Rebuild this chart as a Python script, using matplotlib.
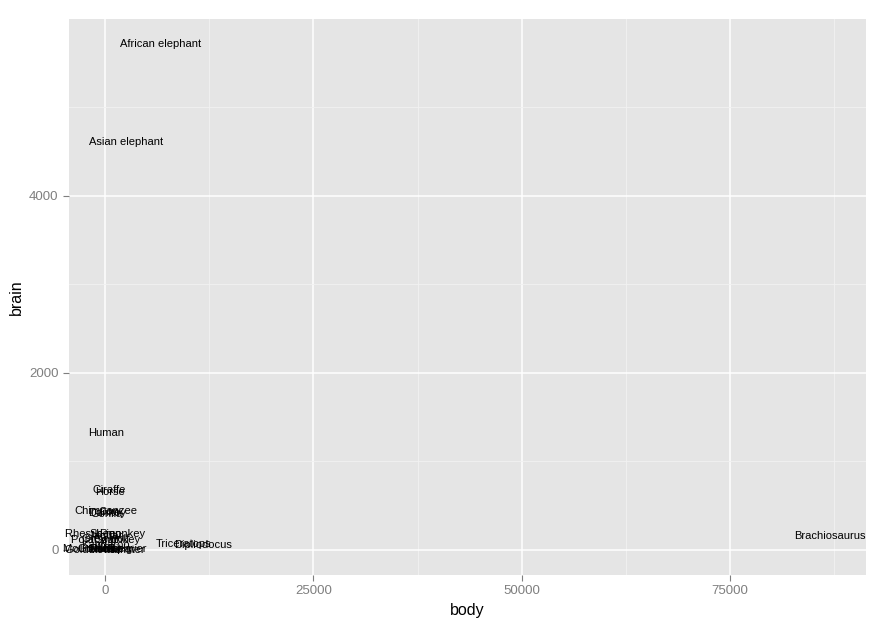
import matplotlib
matplotlib.use("Agg")
import matplotlib.pyplot as plt
plt.rcParams['font.family'] = ['Liberation Sans', 'DejaVu Sans']

names = ["Mountain beaver","Cow","Grey wolf","Goat","Guinea pig","Dipliodocus","Asian elephant",
         "Donkey","Horse","Potar monkey","Cat","Giraffe","Gorilla","Human","African elephant",
         "Triceratops","Rhesus monkey","Kangaroo","Golden hamster","Mouse","Rabbit","Sheep",
         "Jaguar","Chimpanzee","Brachiosaurus","Mole","Pig"]
body = [1.35,465,36.33,27.66,1.04,11700,2547,187.1,521,10,3.3,529,207,62,6654,9400,6.8,35,
        0.12,0.023,2.5,55.5,100,52.16,87000,0.122,192]
brain = [8.1,423,119.5,115,5.5,50,4603,419,655,115,25.6,680,406,1320,5712,70,179,56,1,0.4,
         12.1,175,157,440,154.5,3,180]

fig = plt.figure(figsize=(8.87,6.28), dpi=100)
ax = fig.add_axes([69/887, 1-575/628, (866-69)/887, (575-19)/628])
ax.set_facecolor("#E5E5E5")
for s in ax.spines.values():
    s.set_visible(False)
xr = max(body)-min(body); yr = max(brain)-min(brain)
ax.set_xlim(min(body)-0.05*xr, max(body)+0.05*xr)
ax.set_ylim(min(brain)-0.05*yr, max(brain)+0.05*yr)
ax.set_xticks([0,25000,50000,75000])
ax.set_yticks([0,2000,4000])
ax.set_xticks([12500,37500,62500,87500], minor=True)
ax.set_yticks([1000,3000,5000], minor=True)
ax.grid(True, which="major", color="white", lw=1.1)
ax.grid(True, which="minor", color="#F2F2F2", lw=0.6)
ax.set_axisbelow(True)
ax.tick_params(which="both", length=0)
ax.tick_params(which="major", length=4, color="#7F7F7F", labelsize=9.5, labelcolor="#7F7F7F")
for n, x, y in zip(names, body, brain):
    ax.text(x, y, n, ha="center", va="center", fontsize=8, color="black")
ax.set_xlabel("body", fontsize=11.5)
ax.set_ylabel("brain", fontsize=11.5)
fig.savefig("out.png")
